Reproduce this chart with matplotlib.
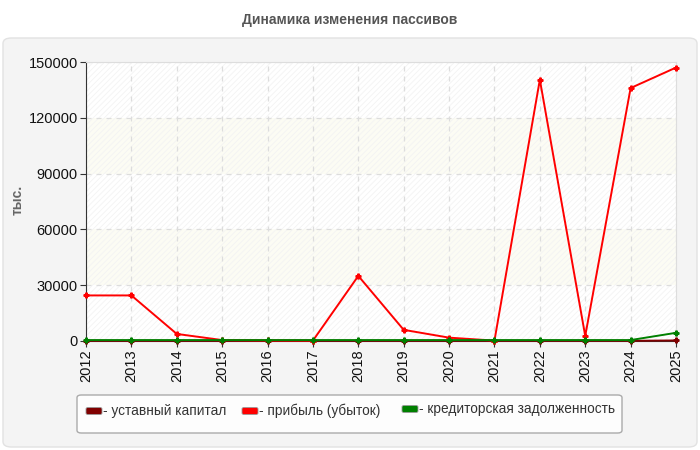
import matplotlib
matplotlib.use("Agg")
import matplotlib.pyplot as plt
from matplotlib.patches import FancyBboxPatch, Rectangle
import numpy as np

years = [2012, 2013, 2014, 2015, 2016, 2017, 2018, 2019, 2020, 2021, 2022, 2023, 2024, 2025]
ustavny = [100, 100, 100, 100, 100, 100, 100, 100, 100, 100, 100, 100, 100, 300]
pribyl = [24500, 24500, 3800, 500, 300, 200, 35000, 6000, 1800, 200, 140500, 2700, 136000, 147000]
kredit = [500, 500, 500, 500, 500, 500, 500, 500, 500, 500, 500, 500, 500, 4400]
series_names = ["- уставный капитал", "- прибыль (убыток)", "- кредиторская задолженность"]
series_colors = ["#800000", "#ff0000", "#008000"]
yticks = [0, 30000, 60000, 90000, 120000, 150000]

plt.rcParams['font.family'] = ['Liberation Sans', 'DejaVu Sans']
plt.rcParams['hatch.linewidth'] = 0.6
fig = plt.figure(figsize=(7, 4.5), dpi=100)
fig.patch.set_facecolor("white")

# panel background
panel = FancyBboxPatch((3/700, 3/450), 694/700, 409/450, boxstyle="round,pad=0,rounding_size=0.012",
                       transform=fig.transFigure, facecolor="#f4f4f4", edgecolor="#e2e2e2", lw=1, zorder=-5)
fig.patches.append(panel)

fig.text(0.5, 1 - 20/450, "Динамика изменения пассивов", ha="center", va="center",
         fontsize=10, fontweight="bold", color="#555555")

L, R, T, B = 86, 676, 62, 341
ax = fig.add_axes([L/700, 1 - B/450, (R-L)/700, (B-T)/450], zorder=2)
ax.set_facecolor("white")
ax.set_xlim(years[0], years[-1])
ax.set_ylim(0, 150000)

# alternating bands and hatch
for i in range(len(yticks) - 1):
    if i % 2 == 1:
        ax.axhspan(yticks[i], yticks[i+1], facecolor="#fcfcf4", edgecolor="none", zorder=0)
hatch = Rectangle((0, 0), 1, 1, transform=ax.transAxes, facecolor="none", edgecolor="#f3f3f3",
                  hatch="//////", lw=0, zorder=0.5)
ax.add_patch(hatch)

ax.set_xticks(years)
ax.set_xticklabels([str(y) for y in years], rotation=90, fontsize=10.5)
ax.set_yticks(yticks)
ax.set_yticklabels([str(v) for v in yticks], fontsize=10.5)
ax.grid(True, color="#dddddd", linestyle=(0, (4, 4)), lw=0.9, zorder=1)
ax.set_axisbelow(True)

for s in ["top", "right"]:
    ax.spines[s].set_color("#dddddd")
for s in ["left", "bottom"]:
    ax.spines[s].set_color("#333333")
ax.tick_params(axis="both", length=4, color="#333333", labelcolor="#111111", pad=2)

for data, c in zip([ustavny, pribyl, kredit], series_colors):
    ax.plot(years, data, color=c, lw=1.4, marker="P", markersize=3.5, zorder=3, clip_on=False)

fig.text(18/700, 1 - 200/450, "тыс.", rotation=90, ha="center", va="center",
         fontsize=10, fontweight="bold", color="#666666")

# legend
leg = FancyBboxPatch((77/700, 1 - 433/450), 545/700, 38/450, boxstyle="round,pad=0,rounding_size=0.006",
                     transform=fig.transFigure, facecolor="#fdfdfd", edgecolor="#aaaaaa", lw=1, zorder=1)
fig.patches.append(leg)
lx = [86, 242, 402]
ly = [411, 411, 409]
for x, y, name, c in zip(lx, ly, series_names, series_colors):
    p = FancyBboxPatch((x/700, 1 - (y+3.5)/450), 16/700, 7/450, boxstyle="round,pad=0,rounding_size=0.003",
                       transform=fig.transFigure, facecolor=c, edgecolor="#999999", lw=0.6, zorder=2)
    fig.patches.append(p)
    fig.text((x+17)/700, 1 - y/450, name, ha="left", va="center", fontsize=9.8, color="#333333")

fig.savefig("out.png", dpi=100)
